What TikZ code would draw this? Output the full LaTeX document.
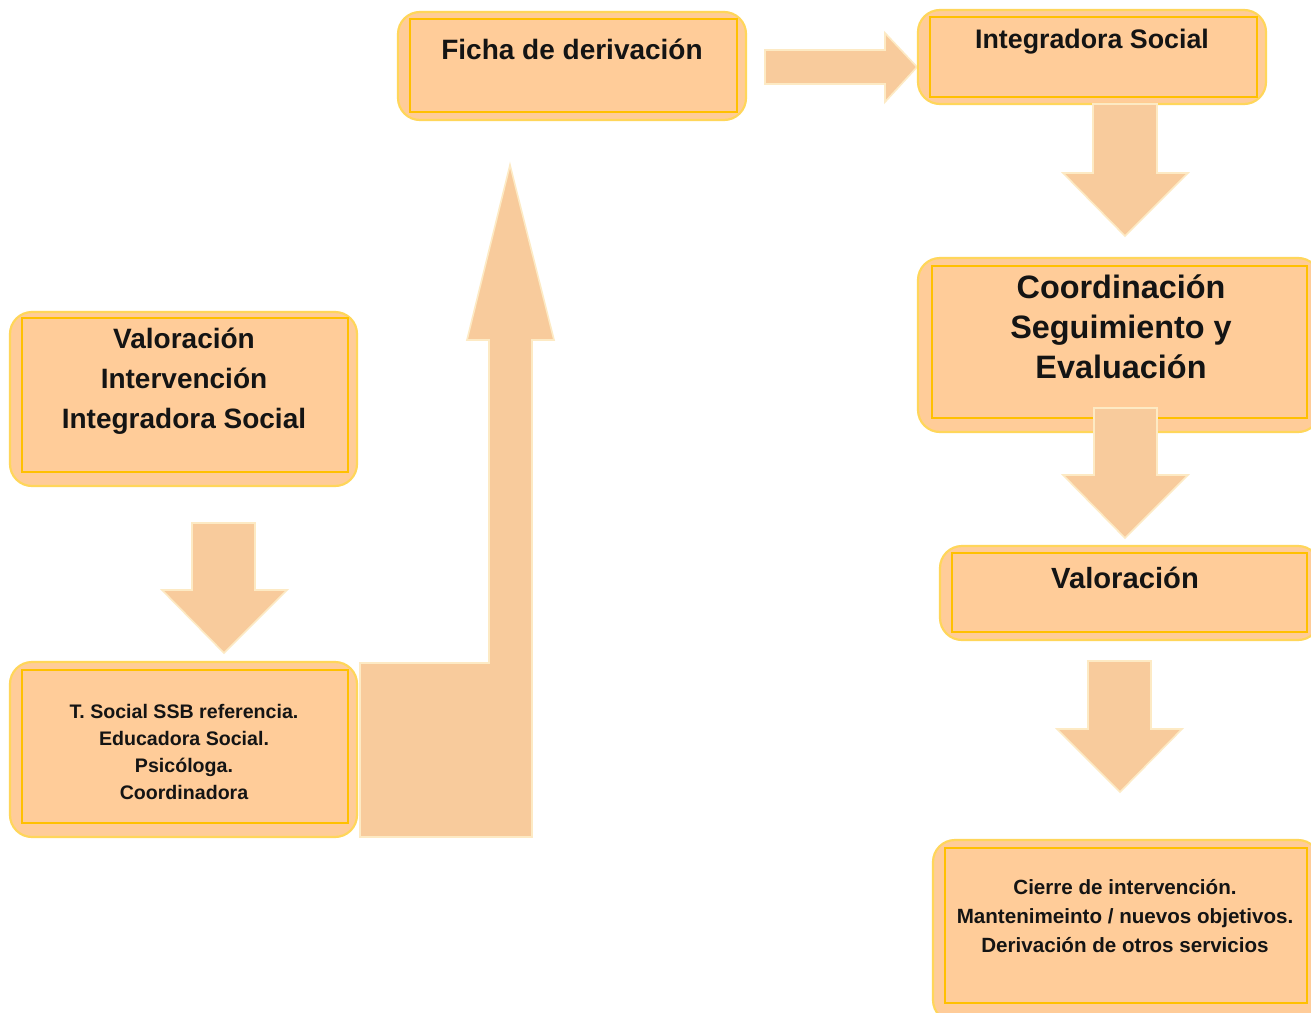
\documentclass[tikz,border=0pt]{standalone}
\usepackage{fontspec}
\setmainfont{Liberation Sans}
\definecolor{boxfill}{RGB}{255,204,153}
\definecolor{outerline}{RGB}{255,214,90}
\definecolor{innerline}{RGB}{255,192,0}
\definecolor{arrowfill}{RGB}{248,203,156}
\definecolor{arrowedge}{RGB}{253,234,196}
\definecolor{txt}{RGB}{20,20,20}
\begin{document}
\begin{tikzpicture}[x=0.5pt,y=-0.5pt,
  outerbox/.style={fill=boxfill, draw=outerline, line width=1.1pt, rounded corners=11pt},
  innerbox/.style={draw=innerline, line width=0.9pt},
  blockarrow/.style={fill=arrowfill, draw=arrowedge, line width=0.8pt},
  label/.style={font=\bfseries, align=center, text=txt, inner sep=0pt}]
\useasboundingbox (0,0) rectangle (1311,1012);
\clip (0,0) rectangle (1311,1012);
\fill[white] (0,0) rectangle (1311,1012);

% Box: Valoracion Intervencion Integradora Social
\draw[outerbox] (10,312) rectangle (357,486);
\draw[innerbox] (22,318) rectangle (348,472);
\node[label, font=\bfseries\fontsize{14}{20}\selectfont] (valint) at (184,381)
  {Valoración\\Intervención\\Integradora Social};

% Down arrow 1
\draw[blockarrow] (192,523) -- (255,523) -- (255,590) -- (287,590) -- (224,653)
  -- (162,590) -- (192,590) -- cycle;

% Box: T. Social
\draw[outerbox] (10,662) rectangle (357,837);
\draw[innerbox] (22,670) rectangle (348,823);
\node[label, font=\bfseries\fontsize{9.8}{13.5}\selectfont] (equipo) at (184,752)
  {T. Social SSB referencia.\\Educadora Social.\\Psicóloga.\\Coordinadora};

% L-shaped arrow
\draw[blockarrow] (360,663) -- (489,663) -- (489,340) -- (467,340) -- (510,165)
  -- (554,340) -- (532,340) -- (532,837) -- (360,837) -- cycle;

% Box: Ficha de derivacion
\draw[outerbox] (398,12) rectangle (746,120);
\draw[innerbox] (410,19) rectangle (737,112);
\node[label, font=\bfseries\fontsize{14}{20}\selectfont] (ficha) at (572,49)
  {Ficha de derivación};

% Right arrow
\draw[blockarrow] (765,50) -- (885,50) -- (885,33) -- (917,67) -- (885,102)
  -- (885,84) -- (765,84) -- cycle;

% Box: Integradora Social
\draw[outerbox] (918,10) rectangle (1266,104);
\draw[innerbox] (930,17) rectangle (1257,97);
\node[label, font=\bfseries\fontsize{13.4}{20}\selectfont] (integ) at (1092,42)
  {Integradora Social};

% Down arrow 2
\draw[blockarrow] (1093,104) -- (1157,104) -- (1157,173) -- (1188,173) -- (1125,236)
  -- (1063,173) -- (1093,173) -- cycle;

% Box: Coordinacion
\draw[outerbox] (918,258) rectangle (1320,432);
\draw[innerbox] (932,266) rectangle (1307,418);
\node[label, font=\bfseries\fontsize{16.2}{20}\selectfont] (coord) at (1121,327)
  {Coordinación\\Seguimiento y\\Evaluación};

% Down arrow 3
\draw[blockarrow] (1094,408) -- (1157,408) -- (1157,475) -- (1188,475) -- (1125,538)
  -- (1063,475) -- (1094,475) -- cycle;

% Box: Valoracion (right)
\draw[outerbox] (940,546) rectangle (1320,640);
\draw[innerbox] (952,553) rectangle (1307,632);
\node[label, font=\bfseries\fontsize{14.6}{20}\selectfont] (valor) at (1125,578)
  {Valoración};

% Down arrow 4
\draw[blockarrow] (1088,661) -- (1151,661) -- (1151,729) -- (1182,729) -- (1120,792)
  -- (1057,729) -- (1088,729) -- cycle;

% Box: Cierre
\draw[outerbox] (933,840) rectangle (1320,1022);
\draw[innerbox] (945,848) rectangle (1307,1003);
\node[label, font=\bfseries\fontsize{10.3}{14.3}\selectfont] (cierre) at (1125,916)
  {Cierre de intervención.\\Mantenimeinto / nuevos objetivos.\\Derivación de otros servicios};
\end{tikzpicture}
\end{document}
